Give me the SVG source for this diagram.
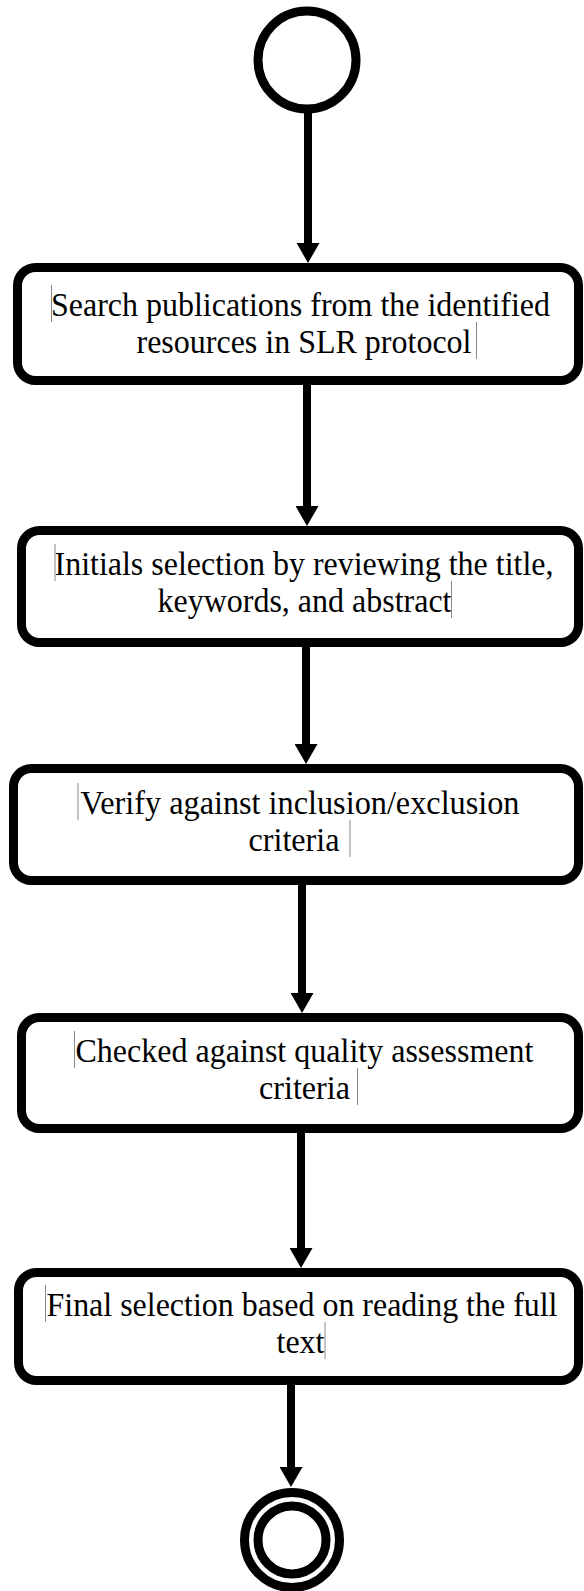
<svg xmlns="http://www.w3.org/2000/svg" width="584" height="1591" viewBox="0 0 584 1591">
  <defs>
    <marker id="arrow" viewBox="0 0 20 23" refX="0" refY="11.5" markerWidth="20" markerHeight="23" markerUnits="userSpaceOnUse" orient="auto">
      <path d="M0,0 L20,11.5 L0,23 Z" fill="#000"/>
    </marker>
  </defs>
  <style>
    .bg { fill: #fff; }
    .state { fill: #fff; stroke: #000; stroke-width: 9; }
    .box { fill: #fff; stroke: #000; stroke-width: 9; }
    .label { font-family: "Liberation Serif", "Times New Roman", serif; font-size: 34px; fill: #000; text-anchor: middle; }
    .label.long { font-size: 33px; }
    .caret { stroke: #8a8a8a; stroke-width: 1; }
    .flow { fill: none; stroke: #000; stroke-width: 8; marker-end: url(#arrow); }
  </style>
  <rect class="bg" x="0" y="0" width="584" height="1591"/>

  <!-- start state -->
  <g id="start">
    <circle class="state" cx="307" cy="60" r="49"/>
  </g>

  <!-- activities -->
  <g id="search">
    <rect class="box" x="17.5" y="267.5" width="561" height="113" rx="18"/>
    <text class="label" x="300.5" y="316" textLength="499" lengthAdjust="spacingAndGlyphs">Search publications from the identified</text>
    <text class="label" x="304" y="353" textLength="335" lengthAdjust="spacingAndGlyphs">resources in SLR protocol</text>
    <line class="caret" x1="51.5" y1="285" x2="51.5" y2="322"/>
    <line class="caret" x1="476.5" y1="322" x2="476.5" y2="359"/>
  </g>

  <g id="initial-selection">
    <rect class="box" x="21.5" y="530.5" width="557" height="112" rx="18"/>
    <text class="label" x="304" y="575" textLength="499" lengthAdjust="spacingAndGlyphs">Initials selection by reviewing the title,</text>
    <text class="label" x="304.5" y="612" textLength="294" lengthAdjust="spacingAndGlyphs">keywords, and abstract</text>
    <line class="caret" x1="55" y1="544" x2="55" y2="581"/>
    <line class="caret" x1="451.5" y1="581" x2="451.5" y2="618"/>
  </g>

  <g id="criteria-check">
    <rect class="box" x="13.5" y="768.5" width="565" height="112" rx="18"/>
    <text class="label" x="300" y="814" textLength="439" lengthAdjust="spacingAndGlyphs">Verify against inclusion/exclusion</text>
    <text class="label" x="294" y="851" textLength="91" lengthAdjust="spacingAndGlyphs">criteria</text>
    <line class="caret" x1="78" y1="783" x2="78" y2="820"/>
    <line class="caret" x1="350" y1="820" x2="350" y2="857"/>
  </g>

  <g id="quality-check">
    <rect class="box" x="21.5" y="1017.5" width="557" height="111" rx="18"/>
    <text class="label" x="304.5" y="1062" textLength="458" lengthAdjust="spacingAndGlyphs">Checked against quality assessment</text>
    <text class="label" x="304.5" y="1099" textLength="91" lengthAdjust="spacingAndGlyphs">criteria</text>
    <line class="caret" x1="74.5" y1="1031" x2="74.5" y2="1068"/>
    <line class="caret" x1="357.5" y1="1068" x2="357.5" y2="1105"/>
  </g>

  <g id="final-selection">
    <rect class="box" x="18.5" y="1272.5" width="560" height="108" rx="18"/>
    <text class="label long" x="302" y="1316" textLength="511" lengthAdjust="spacingAndGlyphs">Final selection based on reading the full</text>
    <text class="label" x="300.5" y="1353" textLength="48" lengthAdjust="spacingAndGlyphs">text</text>
    <line class="caret" x1="45.5" y1="1285" x2="45.5" y2="1322"/>
    <line class="caret" x1="325" y1="1322" x2="325" y2="1359"/>
  </g>

  <!-- final state -->
  <g id="end">
    <circle class="state" cx="292" cy="1540" r="47.5" stroke-width="10"/>
    <circle class="state" cx="292" cy="1540" r="34" stroke-width="8"/>
  </g>

  <!-- control flow -->
  <g id="connectors">
    <path class="flow" d="M308,113 V243"/>
    <path class="flow" d="M307,385 V506"/>
    <path class="flow" d="M306,647 V744"/>
    <path class="flow" d="M302,885 V993"/>
    <path class="flow" d="M301,1133 V1248"/>
    <path class="flow" d="M291,1385 V1467"/>
  </g>
</svg>
